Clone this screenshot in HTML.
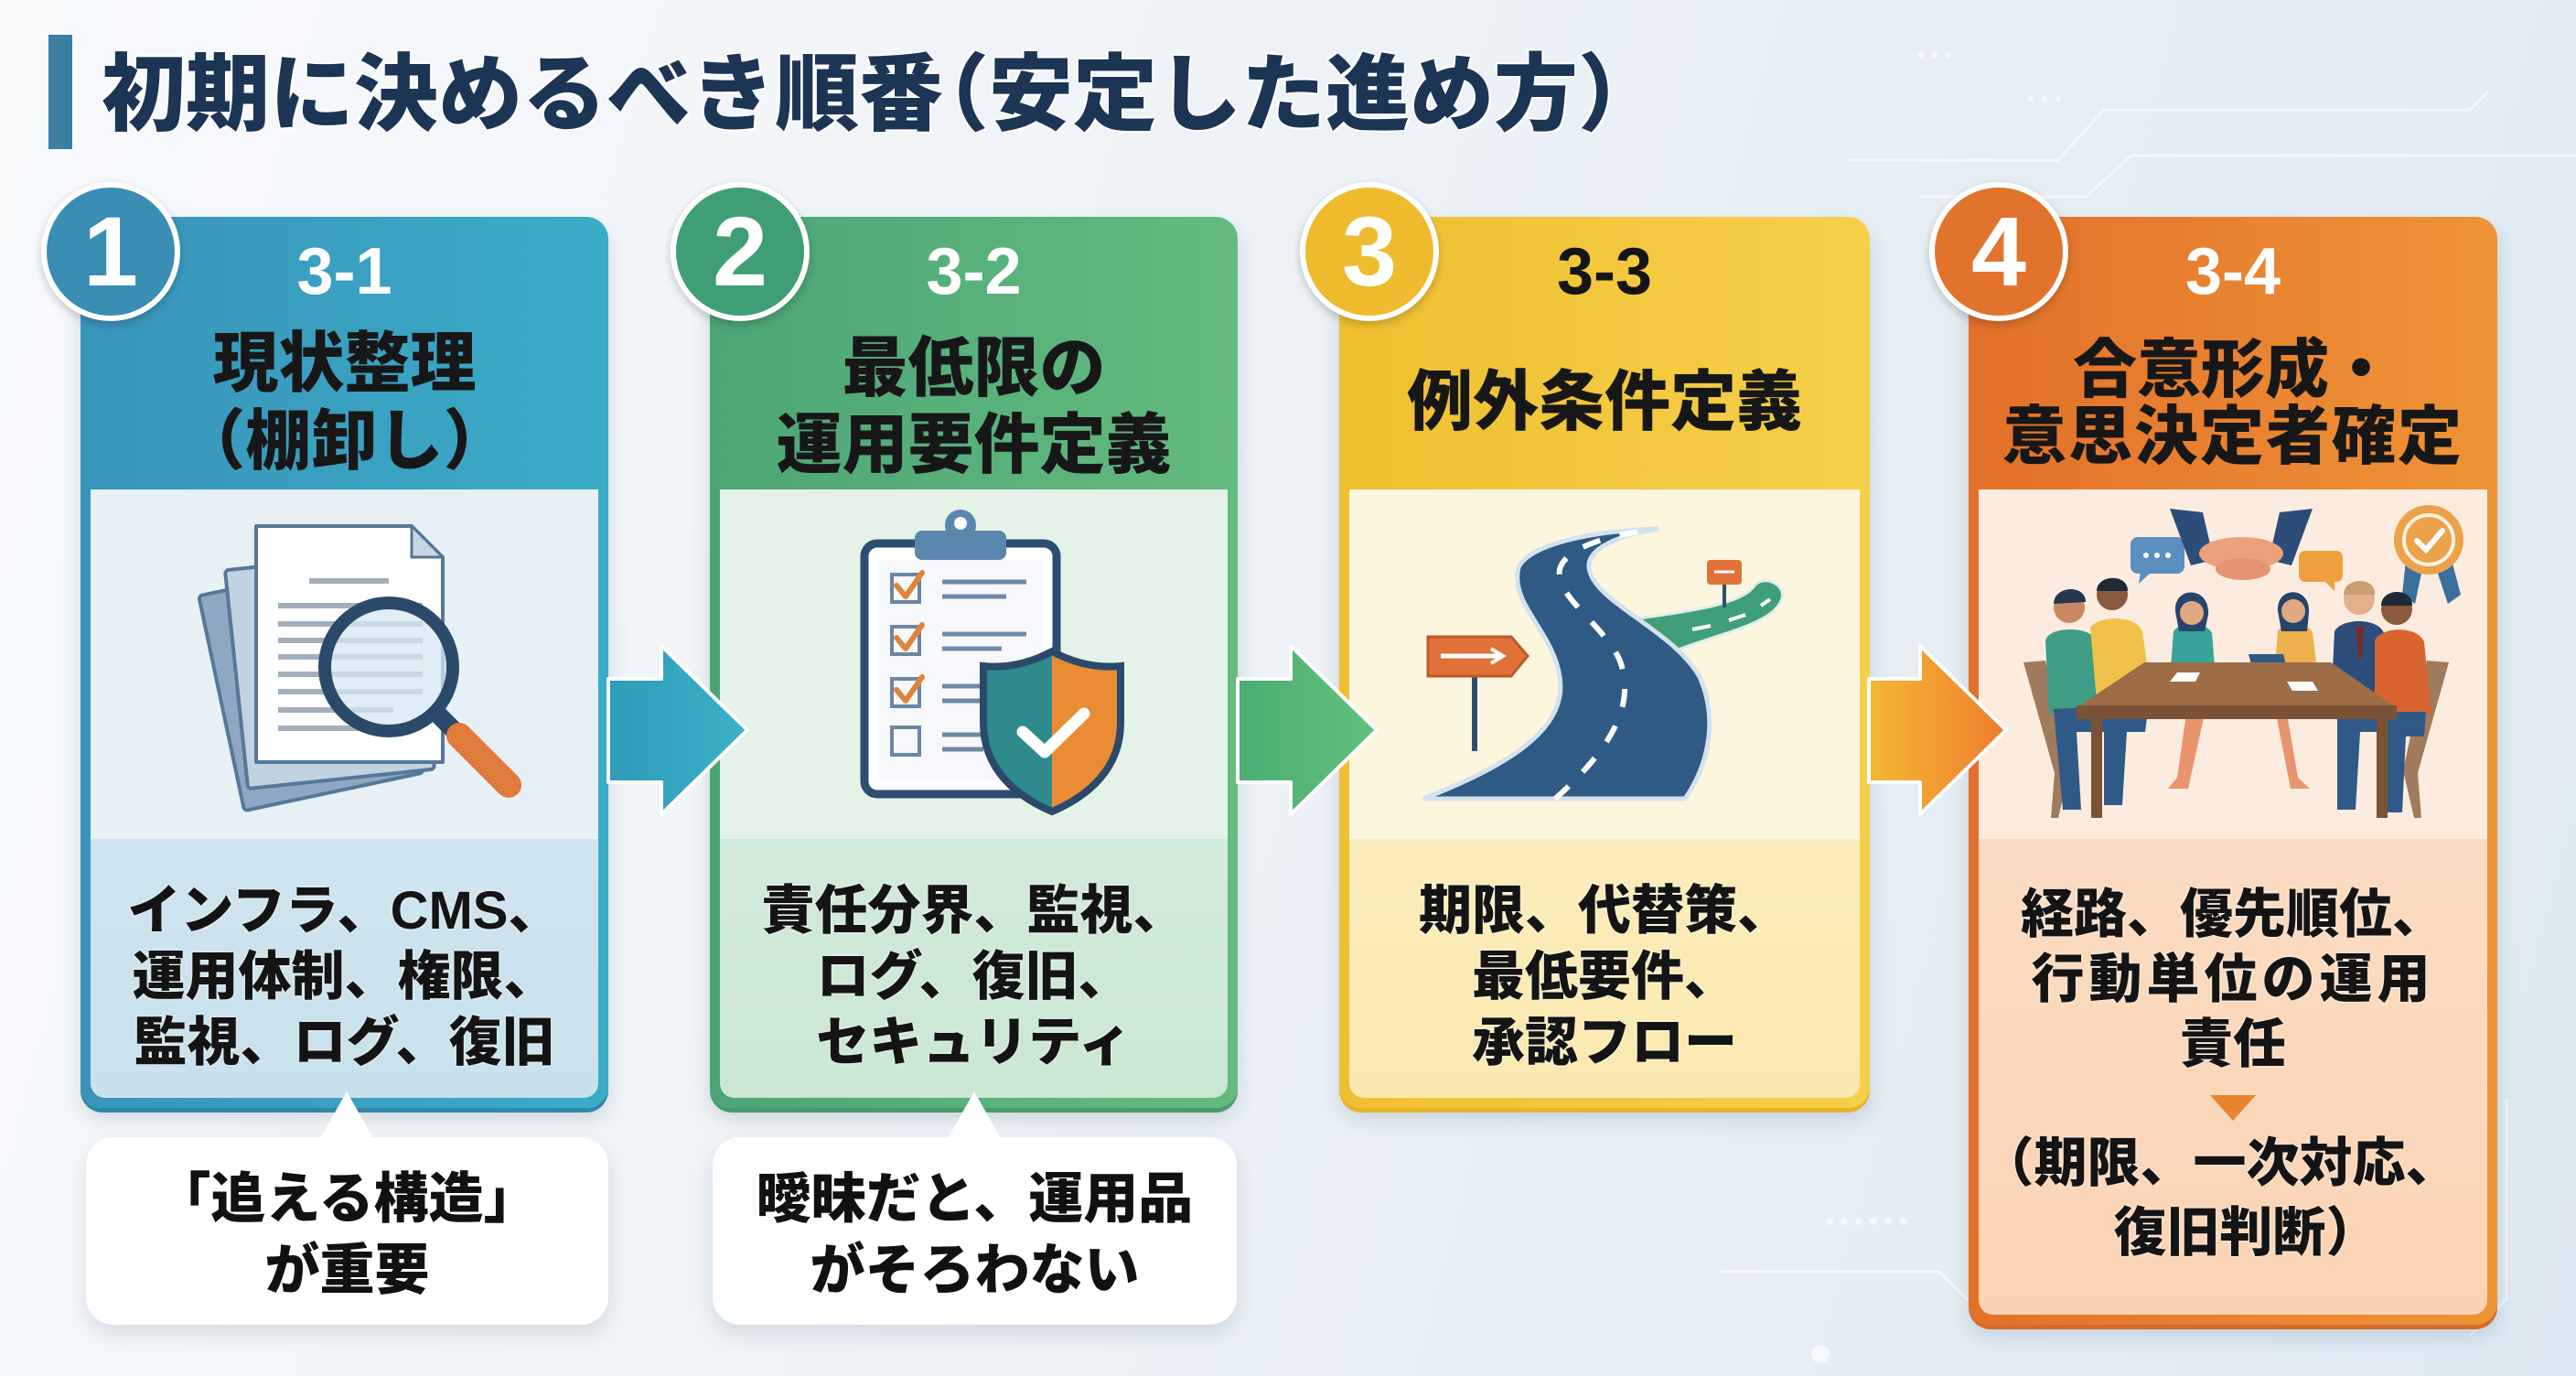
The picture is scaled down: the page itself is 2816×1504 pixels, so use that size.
<!DOCTYPE html>
<html lang="ja"><head><meta charset="utf-8">
<style>
*{margin:0;padding:0;box-sizing:border-box}
html,body{width:2816px;height:1504px;overflow:hidden}
body{position:relative;background:linear-gradient(105deg,#f8fafc 0%,#eef3f7 42%,#dde9f2 100%);font-family:"Liberation Sans","Noto Sans CJK JP",sans-serif;font-weight:900;color:#151515}
.card{position:absolute;top:237px;border-radius:24px}
.img{position:absolute;left:11px;top:298px;height:382px}
.txt{position:absolute;left:11px;top:680px;border-radius:0 0 16px 16px}
.ln{position:absolute;left:0;width:100%;text-align:center;white-space:nowrap}
.num{font-family:"Liberation Sans",sans-serif;font-weight:700;font-size:72px;line-height:100px;height:100px;top:10px}
.hd{font-size:72px;color:#171717}
.bd{font-size:58px;line-height:72px;top:723px;color:#141414;text-shadow:0 0 3px rgba(255,255,255,.8)}
.circ{position:absolute;width:152px;height:152px;border-radius:50%;border:6px solid #fff;box-shadow:0 4px 10px rgba(0,0,0,.2);color:#fff;font-family:"Liberation Sans",sans-serif;font-weight:700;font-size:108px;line-height:140px;text-align:center;z-index:6}
.call{position:absolute;top:1243px;height:205px;background:#fff;border-radius:30px;box-shadow:0 10px 22px rgba(40,60,90,.14);z-index:3}
.ct{position:absolute;left:0;width:100%;top:29px;text-align:center;font-size:60px;line-height:78px;white-space:nowrap;color:#111}
.h{font-feature-settings:"halt"}
</style></head><body>

<!-- faint background decorations -->
<svg style="position:absolute;left:0;top:0;z-index:0" width="2816" height="1504">
 <g stroke="#ffffff" stroke-width="3" fill="none" opacity=".6">
  <polyline points="2020,175 2250,175 2300,120 2700,120 2720,100"/>
  <polyline points="2100,215 2280,215 2330,170 2816,170"/>
  <polyline points="1880,1390 2120,1390 2150,1420 2200,1420"/>
  <polyline points="2740,1200 2740,1420 2700,1460"/>
 </g>
 <g fill="#ffffff" opacity=".7">
  <circle cx="2100" cy="60" r="3"/><circle cx="2115" cy="60" r="3"/><circle cx="2130" cy="60" r="3"/>
  <circle cx="2220" cy="108" r="3"/><circle cx="2235" cy="108" r="3"/><circle cx="2250" cy="108" r="3"/>
  <circle cx="2000" cy="1335" r="4"/><circle cx="2016" cy="1335" r="4"/><circle cx="2032" cy="1335" r="4"/><circle cx="2048" cy="1335" r="4"/><circle cx="2064" cy="1335" r="4"/><circle cx="2080" cy="1335" r="4"/>
  <circle cx="1990" cy="1480" r="10"/>
 </g>
</svg>

<!-- Title -->
<div style="position:absolute;left:53px;top:38px;width:26px;height:125px;background:#3b7fa3"></div>
<div style="position:absolute;left:111px;top:44px;height:120px;line-height:120px;font-size:92px;color:#1c3555;white-space:nowrap;text-shadow:0 0 4px #fff,2px 2px 0 #fff,-2px -2px 0 #fff">初期に決めるべき順番<span class="h" style="margin-left:4px">（</span>安定した進め方<span class="h">）</span></div>

<!-- Card 1 -->
<div class="card" style="left:88px;width:577px;height:974px;background:linear-gradient(90deg,#3994ba,#3bacc7);box-shadow:0 5px 0 #2f88a8,0 12px 22px rgba(40,70,100,.18);z-index:1">
 <div class="ln num" style="color:#fff">3-1</div>
 <div class="ln hd" style="top:119px;line-height:85px">現状整理<br><span class="h">（</span>棚卸し<span class="h">）</span></div>
 <div class="img" style="width:555px;background:#e7f0f4"></div>
 <div class="txt" style="width:555px;height:283px;background:linear-gradient(#cfe4ee,#c8e1ec)"></div>
 <div class="ln bd">インフラ、CMS、<br>運用体制、権限、<br>監視、ログ、復旧</div>
</div>

<!-- Card 2 -->
<div class="card" style="left:776px;width:577px;height:974px;background:linear-gradient(90deg,#4ca575,#64bb80);box-shadow:0 5px 0 #479c6a,0 12px 22px rgba(40,70,100,.18);z-index:1">
 <div class="ln num" style="color:#fff">3-2</div>
 <div class="ln hd" style="top:124px;line-height:84px">最低限の<br>運用要件定義</div>
 <div class="img" style="width:555px;background:#e5f2e8"></div>
 <div class="txt" style="width:555px;height:283px;background:linear-gradient(#d2eada,#cbe7d2)"></div>
 <div class="ln bd">責任分界、監視、<br>ログ、復旧、<br>セキュリティ</div>
</div>

<!-- Card 3 -->
<div class="card" style="left:1464px;width:580px;height:974px;background:linear-gradient(90deg,#efbf30,#f6d04a);box-shadow:0 5px 0 #e6b42a,0 12px 22px rgba(40,70,100,.18);z-index:1">
 <div class="ln num" style="color:#151515">3-3</div>
 <div class="ln hd" style="top:153px;line-height:100px">例外条件定義</div>
 <div class="img" style="width:558px;background:#fdf6de"></div>
 <div class="txt" style="width:558px;height:283px;background:linear-gradient(#fbedbb,#f9e8b0)"></div>
 <div class="ln bd">期限、代替策、<br>最低要件、<br>承認フロー</div>
</div>

<!-- Card 4 -->
<div class="card" style="left:2152px;width:578px;height:1211px;background:linear-gradient(90deg,#e2702a,#ef9436);box-shadow:0 5px 0 #d86a28,0 12px 22px rgba(40,70,100,.18);z-index:1">
 <div class="ln num" style="color:#fff">3-4</div>
 <div class="ln hd" style="top:131px;line-height:73px;font-size:70px">合意形成・<br><span style="letter-spacing:2px">意思決定者確定</span></div>
 <div class="img" style="width:556px;background:#fcecdf"></div>
 <div class="txt" style="width:556px;height:520px;background:linear-gradient(#fbdcc2,#fbd3b3)"></div>
 <div class="ln bd" style="top:727px;line-height:71px;font-size:58px">経路、優先順位、<br><span style="letter-spacing:5px">行動単位の運用</span><br>責任</div>
 <div class="ln bd" style="top:997px;line-height:76px;font-size:58px"><span class="h">（</span>期限、一次対応、<br>復旧判断<span class="h">）</span></div>
</div>

<!-- Circles -->
<div class="circ" style="left:45px;top:199px;background:#3a8db3">1</div>
<div class="circ" style="left:733px;top:199px;background:#3f9e74">2</div>
<div class="circ" style="left:1421px;top:199px;background:#eebb2e">3</div>
<div class="circ" style="left:2109px;top:199px;background:#e2732c">4</div>

<!-- Callouts -->
<div class="call" style="left:94px;width:571px"><div class="ct">「追える構造」<br>が重要</div></div>
<div class="call" style="left:779px;width:573px"><div class="ct">曖昧だと、運用品<br>がそろわない</div></div>

<!-- Illustrations, arrows, pointers -->
<svg style="position:absolute;left:0;top:0;z-index:4" width="2816" height="1504">
 <defs>
  <linearGradient id="a1" x1="0" x2="1"><stop offset="0" stop-color="#2f9bb9"/><stop offset="1" stop-color="#3bb1c6"/></linearGradient>
  <linearGradient id="a2" x1="0" x2="1"><stop offset="0" stop-color="#4aad72"/><stop offset="1" stop-color="#63c07c"/></linearGradient>
  <linearGradient id="a3" x1="0" x2="1"><stop offset="0" stop-color="#f3b834"/><stop offset="1" stop-color="#ef7d2e"/></linearGradient>
  <clipPath id="shl"><rect x="1060" y="700" width="90" height="200"/></clipPath>
 </defs>

 <!-- arrows -->
 <polygon points="665,742 723,742 723,706 817,798 723,890 723,855 665,855" fill="url(#a1)" stroke="#fff" stroke-width="4" stroke-linejoin="round"/>
 <polygon points="1353,742 1411,742 1411,706 1505,798 1411,890 1411,855 1353,855" fill="url(#a2)" stroke="#fff" stroke-width="4" stroke-linejoin="round"/>
 <polygon points="2043,742 2099,742 2099,706 2193,798 2099,890 2099,855 2043,855" fill="url(#a3)" stroke="#fff" stroke-width="4" stroke-linejoin="round"/>

 <!-- callout pointers -->
 <polygon points="349,1246 379,1193 409,1246" fill="#fff"/>
 <polygon points="1035,1246 1065,1193 1095,1246" fill="#fff"/>

 <!-- card 4 small triangle -->
 <polygon points="2416,1197 2466,1197 2441,1225" fill="#e8832e"/>

 <!-- Illustration 1: documents + magnifier -->
 <g stroke="#56779a" stroke-width="4" stroke-linejoin="round">
  <rect x="240" y="628" width="200" height="240" rx="4" fill="#8ea8c3" transform="rotate(-12 340 748)"/>
  <rect x="258" y="612" width="205" height="240" rx="4" fill="#c3d2e1" transform="rotate(-6 360 732)"/>
  <path d="M280 575 H450 L484 609 V833 H280 Z" fill="#fff"/>
  <path d="M450 575 V609 H484 Z" fill="#c9d6e3" stroke-width="3"/>
 </g>
 <g stroke="#a3afbd" stroke-width="6">
  <line x1="338" y1="635" x2="425" y2="635"/>
  <line x1="304" y1="662" x2="462" y2="662"/>
  <line x1="304" y1="682" x2="462" y2="682"/>
  <line x1="304" y1="700" x2="462" y2="700"/>
  <line x1="304" y1="718" x2="462" y2="718"/>
  <line x1="304" y1="737" x2="462" y2="737"/>
  <line x1="304" y1="756" x2="462" y2="756"/>
  <line x1="304" y1="776" x2="430" y2="776"/>
  <line x1="304" y1="796" x2="400" y2="796"/>
 </g>
 <circle cx="425" cy="729" r="70" fill="#d6e7f0" fill-opacity=".75" stroke="#2b4a6b" stroke-width="14"/>
 <line x1="478" y1="780" x2="500" y2="802" stroke="#2b4a6b" stroke-width="20"/>
 <line x1="502" y1="804" x2="556" y2="858" stroke="#e07b3c" stroke-width="28" stroke-linecap="round"/>

 <!-- Illustration 2: clipboard + shield -->
 <rect x="945" y="594" width="210" height="274" rx="14" fill="#fff" stroke="#2d4e70" stroke-width="9"/>
 <rect x="960" y="612" width="180" height="240" rx="4" fill="#f6f8fb"/>
 <circle cx="1050" cy="574" r="17" fill="#5b87ae"/>
 <circle cx="1050" cy="572" r="7" fill="#fff"/>
 <rect x="1000" y="580" width="100" height="32" rx="8" fill="#5b87ae"/>
 <g fill="none" stroke="#6b86a3" stroke-width="4">
  <rect x="975" y="628" width="30" height="30"/>
  <rect x="975" y="685" width="30" height="30"/>
  <rect x="975" y="742" width="30" height="30"/>
  <rect x="975" y="795" width="30" height="30"/>
 </g>
 <g fill="none" stroke="#e0843a" stroke-width="6" stroke-linecap="round" stroke-linejoin="round">
  <polyline points="980,640 990,652 1008,626"/>
  <polyline points="980,697 990,709 1008,683"/>
  <polyline points="980,754 990,766 1008,740"/>
 </g>
 <g stroke="#6f8aa6" stroke-width="5">
  <line x1="1030" y1="636" x2="1122" y2="636"/><line x1="1030" y1="652" x2="1100" y2="652"/>
  <line x1="1030" y1="693" x2="1122" y2="693"/><line x1="1030" y1="709" x2="1095" y2="709"/>
  <line x1="1030" y1="750" x2="1080" y2="750"/><line x1="1030" y1="766" x2="1075" y2="766"/>
  <line x1="1030" y1="803" x2="1075" y2="803"/><line x1="1030" y1="819" x2="1075" y2="819"/>
 </g>
 <path d="M1150 712 C1180 728 1205 730 1225 728 V790 C1225 840 1190 870 1150 887 C1110 870 1075 840 1075 790 V728 C1095 730 1120 728 1150 712 Z" fill="#e98c34"/>
 <path d="M1150 712 C1180 728 1205 730 1225 728 V790 C1225 840 1190 870 1150 887 C1110 870 1075 840 1075 790 V728 C1095 730 1120 728 1150 712 Z" fill="#2e8a8c" clip-path="url(#shl)"/>
 <path d="M1150 712 C1180 728 1205 730 1225 728 V790 C1225 840 1190 870 1150 887 C1110 870 1075 840 1075 790 V728 C1095 730 1120 728 1150 712 Z" fill="none" stroke="#2b4a6b" stroke-width="8"/>
 <polyline points="1118,800 1142,822 1185,780" fill="none" stroke="#fff" stroke-width="13" stroke-linecap="round" stroke-linejoin="round"/>

 <!-- Illustration 3: road -->
 <path d="M1790 676 C1850 668 1905 660 1918 640 C1928 628 1952 638 1948 654 C1940 682 1880 692 1835 710 Z" fill="#3f9f78" stroke="#dfeee6" stroke-width="3"/>
 <path d="M1850 688 L1870 684 M1890 678 L1908 672 M1925 662 L1935 655" stroke="#fff" stroke-width="4"/>
 <path d="M1556 873 C1640 840 1715 800 1705 740 C1698 690 1650 660 1660 620 C1672 595 1740 580 1813 578 C1770 585 1730 600 1738 625 C1748 660 1830 690 1858 740 C1880 790 1865 840 1842 873 Z" fill="#2e5a84" stroke="#d3e2ee" stroke-width="5"/>
 <path d="M1700 873 C1760 820 1790 770 1770 720 C1750 680 1700 652 1705 622 C1712 598 1760 585 1800 580" fill="none" stroke="#fff" stroke-width="6" stroke-dasharray="20 22"/>
 <rect x="1609" y="739" width="6" height="82" fill="#2d4e70"/>
 <path d="M1561 696 H1652 L1670 717 L1652 739 H1561 Z" fill="#e07238" stroke="#b95a2a" stroke-width="3"/>
 <line x1="1575" y1="717" x2="1640" y2="717" stroke="#fff" stroke-width="5"/>
 <polyline points="1630,709 1643,717 1630,725" fill="none" stroke="#fff" stroke-width="4"/>
 <rect x="1883" y="638" width="4" height="26" fill="#2d4e70"/>
 <rect x="1866" y="612" width="38" height="27" rx="4" fill="#e07238"/>
 <line x1="1874" y1="625" x2="1896" y2="625" stroke="#fff" stroke-width="3"/>

 <!-- Illustration 4: meeting -->
 <path d="M2212 724 L2236 722 L2262 842 L2250 894 L2242 894 L2246 845 Z" fill="#a07b5c"/>
 <path d="M2677 724 L2653 722 L2627 842 L2639 894 L2647 894 L2643 845 Z" fill="#a07b5c"/>
 <rect x="2329" y="587" width="59" height="40" rx="8" fill="#5b8fc0"/>
 <polygon points="2340,625 2352,625 2338,638" fill="#5b8fc0"/>
 <circle cx="2346" cy="607" r="3" fill="#fff"/><circle cx="2358" cy="607" r="3" fill="#fff"/><circle cx="2370" cy="607" r="3" fill="#fff"/>
 <rect x="2513" y="602" width="48" height="34" rx="7" fill="#eea03f"/>
 <polygon points="2540,634 2552,634 2552,646" fill="#eea03f"/>
 <polygon points="2372,556 2408,560 2420,612 2395,618" fill="#2c4d78"/>
 <polygon points="2528,556 2492,560 2480,612 2505,618" fill="#2c4d78"/>
 <ellipse cx="2450" cy="605" rx="46" ry="18" fill="#e9a27b"/>
 <ellipse cx="2452" cy="622" rx="30" ry="12" fill="#e39470"/>
 <polygon points="2630,612 2650,612 2640,660 2626,650" fill="#3a6f9e"/>
 <polygon points="2660,612 2680,612 2690,650 2676,660" fill="#3a6f9e"/>
 <circle cx="2655" cy="590" r="38" fill="#eba24a"/>
 <circle cx="2655" cy="590" r="27" fill="none" stroke="#fff3e0" stroke-width="4"/>
 <polyline points="2642,591 2652,601 2670,580" fill="none" stroke="#fff" stroke-width="6" stroke-linecap="round"/>
 <g>
  <path d="M2236 700 C2240 684 2285 684 2292 700 L2300 775 L2240 780 Z" fill="#3f9d86"/>
  <circle cx="2262" cy="664" r="17" fill="#c98a63"/><path d="M2245 660 C2245 640 2280 638 2280 658 Z" fill="#26384d"/>
  <path d="M2245 775 L2300 772 L2300 800 L2270 800 L2275 885 L2255 885 Z" fill="#2f5a88"/>
  <path d="M2285 686 C2295 672 2335 672 2342 690 L2352 760 L2292 766 Z" fill="#f0c24a"/>
  <circle cx="2309" cy="650" r="17" fill="#8a5a3c"/><path d="M2292 646 C2292 628 2326 626 2326 646 Z" fill="#1f2a38"/>
  <path d="M2300 762 L2350 760 L2345 800 L2325 800 L2320 880 L2300 880 Z" fill="#2f5a88"/>
  <path d="M2376 690 C2384 678 2410 678 2418 692 L2422 740 L2372 742 Z" fill="#37a39a"/>
  <path d="M2378 668 C2376 640 2416 640 2414 672 L2410 690 L2382 690 Z" fill="#27446a"/>
  <circle cx="2396" cy="670" r="13" fill="#e0a982"/>
  <path d="M2390 780 L2380 850 L2370 862 L2392 862 L2410 780 Z" fill="#e8946c"/>
  <path d="M2490 690 C2496 678 2522 678 2528 692 L2534 740 L2486 742 Z" fill="#eeb04a"/>
  <path d="M2490 668 C2488 640 2526 640 2524 670 L2522 690 L2494 690 Z" fill="#27446a"/>
  <circle cx="2507" cy="668" r="13" fill="#e0a982"/>
  <path d="M2500 780 L2512 850 L2525 862 L2504 862 L2488 780 Z" fill="#e8946c"/>
  <polygon points="2458,715 2496,715 2504,745 2466,745" fill="#2f5a88"/>
  <path d="M2552 690 C2560 675 2600 675 2606 692 L2612 770 L2548 772 Z" fill="#2d4e7a"/>
  <polygon points="2576,684 2584,684 2582,720 2578,720" fill="#7a2a2a"/>
  <circle cx="2579" cy="655" r="17" fill="#e4b08c"/><path d="M2562 650 C2562 630 2598 630 2596 650 Z" fill="#c9a070"/>
  <path d="M2555 770 L2605 770 L2600 800 L2580 800 L2575 885 L2555 885 Z" fill="#2f5a88"/>
  <path d="M2596 700 C2604 684 2644 684 2650 702 L2658 780 L2596 782 Z" fill="#d8652f"/>
  <circle cx="2620" cy="666" r="17" fill="#8a5a3c"/><path d="M2603 662 C2603 642 2638 642 2637 662 Z" fill="#1f2a38"/>
  <path d="M2598 778 L2652 778 L2650 805 L2630 805 L2626 888 L2604 888 Z" fill="#2f5a88"/>
 </g>
 <polygon points="2344,724 2548,724 2616,771 2274,771" fill="#9d6d48"/>
 <polygon points="2380,735 2405,735 2400,745 2372,745" fill="#fff"/>
 <polygon points="2500,745 2528,745 2534,755 2506,755" fill="#fff"/>
 <rect x="2270" y="771" width="350" height="15" fill="#7b5235"/>
 <rect x="2286" y="786" width="12" height="108" fill="#7b5235"/>
 <rect x="2598" y="786" width="12" height="108" fill="#7b5235"/>
</svg>

</body></html>
